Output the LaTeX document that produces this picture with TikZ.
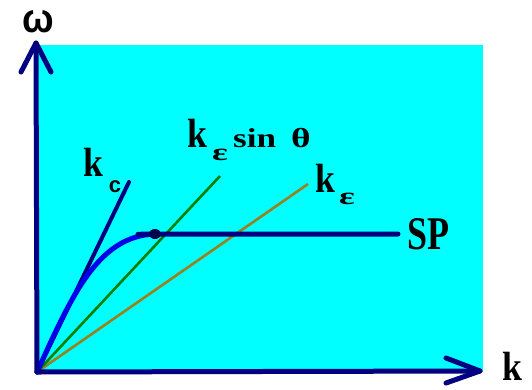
\documentclass[tikz,border=0pt]{standalone}
\usepackage{fontspec}
\usetikzlibrary{calc}
\setmainfont{Liberation Serif}
\newfontfamily\lsans{Liberation Sans}
\definecolor{bgcyan}{RGB}{0,255,255}
\definecolor{axnavy}{RGB}{0,0,128}
\definecolor{curveblue}{RGB}{0,0,235}
\definecolor{lgreen}{RGB}{0,128,0}
\definecolor{lolive}{RGB}{150,130,30}
\tikzset{
  axisline/.style={draw=axnavy,line width=5pt,line cap=round,line join=round},
  kcline/.style={draw=axnavy,line width=4pt,line cap=round},
  greenline/.style={draw=lgreen,line width=2.6pt},
  oliveline/.style={draw=lolive,line width=2.6pt},
  spcurve/.style={draw=curveblue,line width=5pt,line cap=round},
  sphoriz/.style={draw=axnavy,line width=5pt,line cap=round},
  lbl/.style={inner sep=0pt,text=black,font=\bfseries},
}
\begin{document}
\begin{tikzpicture}[x=1pt,y=-1pt]
\useasboundingbox (0,0) rectangle (532,389);
% background panel
\fill[bgcyan] (38,45) rectangle (483,372);
% coordinates
\coordinate (o) at (37,372);
\coordinate (ytip) at (36,43);
\coordinate (xtip) at (480,371);
\coordinate (kcend) at (129,182);
\coordinate (gend) at (220,176);
\coordinate (oend) at (308,184);
\coordinate (spdot) at (155,234);
\coordinate (spend) at (398,234);
% straight lines
\draw[oliveline] (o) -- (oend);
\draw[greenline] (o) -- (gend);
\draw[kcline] (o) -- (kcend);
% SP curve
\draw[spcurve] (o) .. controls (72,295) and (98,236) .. (spdot);
\draw[sphoriz] (138,234.3) -- (spdot) -- (spend);
\fill[axnavy!60!black] (spdot) ellipse (6pt and 5pt);
% axes
\draw[axisline] (o) -- (ytip);
\draw[axisline] ($(ytip)+(-15,29)$) -- (ytip) -- ($(ytip)+(15,29)$);
\draw[axisline] (o) -- (xtip);
\draw[axisline] ($(xtip)+(-34,-13)$) -- (xtip) -- ($(xtip)+(-34,12)$);
% labels
\node[lbl] (omega) at (38,22) {\scalebox{1.1}[1.2]{\fontsize{34}{34}\lsans\bfseries ω}};
\node[lbl] (kx) at (512,366) {\scalebox{1.05}[1.2]{\fontsize{34}{34}\selectfont\bfseries k}};
\node[lbl] (kc) at (93,162) {\scalebox{1.05}[1.2]{\fontsize{34}{34}\selectfont\bfseries k}};
\node[lbl] (kcsub) at (115,187) {\fontsize{22}{22}\lsans\bfseries c};
\node[lbl] (ks) at (197,133) {\scalebox{1.05}[1.2]{\fontsize{34}{34}\selectfont\bfseries k}};
\node[lbl] (kssub) at (220,155) {\scalebox{1.6}[1.05]{\fontsize{23}{23}\selectfont\bfseries ε}};
\node[lbl,anchor=base west] (sin) at (233,147) {\scalebox{1.35}[1.05]{\fontsize{26}{26}\selectfont\bfseries sin}};
\node[lbl] (theta) at (301,138) {\scalebox{1.5}[1.1]{\fontsize{25}{25}\selectfont\bfseries θ}};
\node[lbl] (ke) at (325,178) {\scalebox{1.05}[1.2]{\fontsize{34}{34}\selectfont\bfseries k}};
\node[lbl] (kesub) at (347,199) {\scalebox{1.6}[1.05]{\fontsize{23}{23}\selectfont\bfseries ε}};
\node[lbl] (sp) at (428,234) {\scalebox{1}[1.3]{\fontsize{36}{36}\selectfont\bfseries SP}};
\end{tikzpicture}
\end{document}
